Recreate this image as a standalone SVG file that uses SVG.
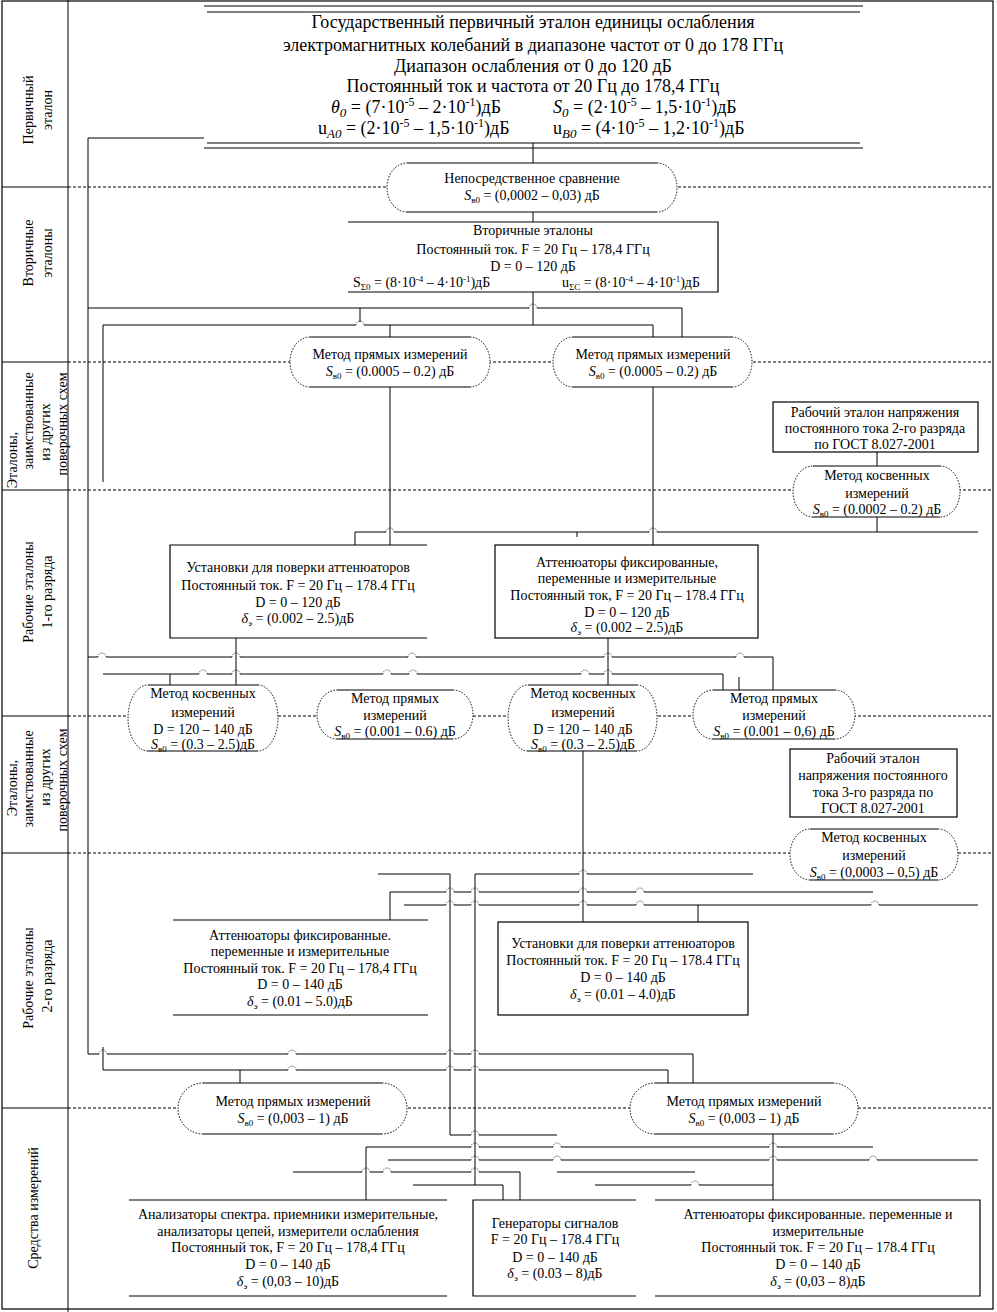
<svg xmlns="http://www.w3.org/2000/svg" width="997" height="1312" viewBox="0 0 997 1312">
<style>
.t{font-family:"Liberation Serif","Times New Roman",serif;font-size:14px;fill:#000;text-anchor:middle}
.h{font-size:18px}
.s{text-anchor:start}
.ln{fill:none;stroke:#000;stroke-width:1}
.bx{fill:none;stroke:#000;stroke-width:1.2}
.dot{fill:none;stroke:#000;stroke-width:1;stroke-dasharray:3 2}
.hop{fill:none;stroke:#000;stroke-width:0.8;stroke-dasharray:1 1.2}
.ef{fill:#fff;stroke:none}
.es{fill:none;stroke:#000;stroke-width:1.2}
.ed{fill:none;stroke:#000;stroke-width:1;stroke-dasharray:1.5 1.5}
</style>
<rect width="997" height="1312" fill="#fff"/>
<g id="frame">
<rect x="2" y="1" width="991" height="1308" class="bx"/>
<path class="ln" d="M68,0 V1312"/>
<path class="ln" d="M2,187 H68 M2,362 H68 M2,490 H68 M2,716 H68 M2,853 H68 M2,1108 H68"/>
<path class="dot" d="M68,187 H993 M68,362 H993 M68,490 H993 M68,716 H993 M68,853 H993 M68,1108 H993"/>
</g>
<g id="row-labels">
<text class="t" transform="translate(33,110) rotate(-90)">Первичный</text>
<text class="t" transform="translate(52,110) rotate(-90)">эталон</text>
<text class="t" transform="translate(33,253) rotate(-90)">Вторичные</text>
<text class="t" transform="translate(52,253) rotate(-90)">эталоны</text>
<text class="t" transform="translate(17,460) rotate(-90)">Эталоны,</text>
<text class="t" transform="translate(33,421) rotate(-90)">заимствованные</text>
<text class="t" transform="translate(50,432) rotate(-90)">из других</text>
<text class="t" transform="translate(67,424) rotate(-90)">поверочных схем</text>
<text class="t" transform="translate(33,592) rotate(-90)">Рабочие эталоны</text>
<text class="t" transform="translate(52,592) rotate(-90)">1-го разряда</text>
<text class="t" transform="translate(17,788) rotate(-90)">Эталоны,</text>
<text class="t" transform="translate(33,779) rotate(-90)">заимствованные</text>
<text class="t" transform="translate(50,777) rotate(-90)">из других</text>
<text class="t" transform="translate(67,780) rotate(-90)">поверочных схем</text>
<text class="t" transform="translate(33,978) rotate(-90)">Рабочие эталоны</text>
<text class="t" transform="translate(52,976) rotate(-90)">2-го разряда</text>
<text class="t" transform="translate(38,1208) rotate(-90)">Средства измерений</text>
</g>
<g id="connectors">
<path class="ln" d="M533,143 V163 M533,212 V222"/>
<path class="ln" d="M204,138 H88 V1054 H99 M107,1054 H288 M296,1054 H446 M454,1054 H471 M479,1054 H693 V1083"/>
<path class="ln" d="M103,1047 V1070 H288 M296,1070 H446 M454,1070 H471 M479,1070 H668 V1083 M240,1070 V1083"/>
<path class="ln" d="M88,308 H529 M537,308 H682 V337 M533,292 V325 M360,308 V322"/>
<path class="ln" d="M103,482 V325 H356 M364,325 H653 V337 M390,325 V337"/>
<path class="ln" d="M390,387 V545 M653,387 V545"/>
<path class="ln" d="M355,545 V532 H386 M394,532 H649 M657,532 H978 M577,532 V537"/>
<path class="ln" d="M877,452 V466 M877,517 V532"/>
<path class="ln" d="M236,638 V685 M608,638 V685"/>
<path class="ln" d="M88,657 H98 M106,657 H232 M240,657 H408 M416,657 H604 M612,657 H736 M744,657 H773 V690"/>
<path class="ln" d="M103,674 H199 M207,674 H232 M240,674 H383 M391,674 H409 M417,674 H581 M589,674 H604 M612,674 H723 V690 M170,674 V685 M739,677 V690"/>
<path class="ln" d="M583,751 V922"/>
<path class="ln" d="M378,874 H450 V1135 H471 M479,1135 H557"/>
<path class="ln" d="M753,874 H587 M579,874 H475 V1185"/>
<path class="ln" d="M390,920 V892 H446 M454,892 H471 M479,892 H579 M587,892 H636 M644,892 H873"/>
<path class="ln" d="M404,905 H446 M454,905 H471 M479,905 H579 M587,905 H636 M644,905 H871 M879,905 H978 M698,905 V922"/>
<path class="ln" d="M366,1200 V1147 H471 M479,1147 H553 M561,1147 H769 M777,1147 H873"/>
<path class="ln" d="M388,1160 H471 M479,1160 H553 M561,1160 H769 M777,1160 H869 M877,1160 H978"/>
<path class="ln" d="M293,1172 H362 M370,1172 H383 M391,1172 H471 M479,1172 H520 V1200 M557,1172 H695"/>
<path class="ln" d="M413,1185 H503 V1200 M595,1185 H691 M699,1185 H773 M773,1134 V1200"/>
<path class="hop" d="M99,1054 a4,4 0 0 1 8,0 M288,1054 a4,4 0 0 1 8,0 M446,1054 a4,4 0 0 1 8,0 M471,1054 a4,4 0 0 1 8,0
M288,1070 a4,4 0 0 1 8,0 M446,1070 a4,4 0 0 1 8,0 M471,1070 a4,4 0 0 1 8,0
M529,308 a4,4 0 0 1 8,0 M356,325 a4,4 0 0 1 8,0 M386,532 a4,4 0 0 1 8,0 M649,532 a4,4 0 0 1 8,0
M98,657 a4,4 0 0 1 8,0 M232,657 a4,4 0 0 1 8,0 M408,657 a4,4 0 0 1 8,0 M604,657 a4,4 0 0 1 8,0 M736,657 a4,4 0 0 1 8,0
M199,674 a4,4 0 0 1 8,0 M232,674 a4,4 0 0 1 8,0 M383,674 a4,4 0 0 1 8,0 M409,674 a4,4 0 0 1 8,0 M581,674 a4,4 0 0 1 8,0 M604,674 a4,4 0 0 1 8,0
M579,874 a4,4 0 0 1 8,0
M446,892 a4,4 0 0 1 8,0 M471,892 a4,4 0 0 1 8,0 M579,892 a4,4 0 0 1 8,0 M636,892 a4,4 0 0 1 8,0
M446,905 a4,4 0 0 1 8,0 M471,905 a4,4 0 0 1 8,0 M579,905 a4,4 0 0 1 8,0 M636,905 a4,4 0 0 1 8,0 M871,905 a4,4 0 0 1 8,0
M471,1135 a4,4 0 0 1 8,0
M471,1147 a4,4 0 0 1 8,0 M553,1147 a4,4 0 0 1 8,0 M769,1147 a4,4 0 0 1 8,0
M471,1160 a4,4 0 0 1 8,0 M553,1160 a4,4 0 0 1 8,0 M769,1160 a4,4 0 0 1 8,0 M869,1160 a4,4 0 0 1 8,0
M362,1172 a4,4 0 0 1 8,0 M383,1172 a4,4 0 0 1 8,0 M471,1172 a4,4 0 0 1 8,0
M691,1185 a4,4 0 0 1 8,0"/>
</g>
<g id="primary">
<path class="ln" d="M204,6 H863 M207,12 H860 M207,143 H860 M204,148 H863"/>
<text class="t h" x="533" y="28">Государственный первичный эталон единицы ослабления</text>
<text class="t h" x="533" y="51">электромагнитных колебаний в диапазоне частот от 0 до 178 ГГц</text>
<text class="t h" x="533" y="72">Диапазон ослабления от 0 до 120 дБ</text>
<text class="t h" x="533" y="92">Постоянный ток и частота от 20 Гц до 178,4 ГГц</text>
<text class="t h s" x="331" y="113"><tspan font-style="italic">θ</tspan><tspan font-style="italic" font-size="13" dy="4">0</tspan><tspan dy="-4"> = (7·10</tspan><tspan font-size="12" dy="-7">-5</tspan><tspan dy="7"> – 2·10</tspan><tspan font-size="12" dy="-7">-1</tspan><tspan dy="7">)дБ</tspan></text>
<text class="t h s" x="553" y="113"><tspan font-style="italic">S</tspan><tspan font-style="italic" font-size="13" dy="4">0</tspan><tspan dy="-4"> = (2·10</tspan><tspan font-size="12" dy="-7">-5</tspan><tspan dy="7"> – 1,5·10</tspan><tspan font-size="12" dy="-7">-1</tspan><tspan dy="7">)дБ</tspan></text>
<text class="t h s" x="318" y="134"><tspan>u</tspan><tspan font-style="italic" font-size="13" dy="4">A0</tspan><tspan dy="-4"> = (2·10</tspan><tspan font-size="12" dy="-7">-5</tspan><tspan dy="7"> – 1,5·10</tspan><tspan font-size="12" dy="-7">-1</tspan><tspan dy="7">)дБ</tspan></text>
<text class="t h s" x="553" y="134"><tspan>u</tspan><tspan font-style="italic" font-size="13" dy="4">B0</tspan><tspan dy="-4"> = (4·10</tspan><tspan font-size="12" dy="-7">-5</tspan><tspan dy="7"> – 1,2·10</tspan><tspan font-size="12" dy="-7">-1</tspan><tspan dy="7">)дБ</tspan></text>
</g>
<g id="direct-comparison">
<path class="ef" d="M407,163 H657 A20,24.5 0 0 1 657,212 H407 A20,24.5 0 0 1 407,163 Z"/>
<path class="es" d="M407,163 H657 M407,212 H657"/>
<path class="ed" d="M657,163 A20,24.5 0 0 1 657,212 M407,212 A20,24.5 0 0 1 407,163"/>
<text class="t" x="532" y="183">Непосредственное сравнение</text>
<text class="t" x="532" y="200"><tspan font-style="italic">S</tspan><tspan font-size="9" dy="3">в0</tspan><tspan dy="-3">  = (0,0002 – 0,03) дБ</tspan></text>
</g>
<g id="secondary">
<rect x="348" y="222" width="370" height="70" fill="#fff"/>
<path class="bx" d="M348,222 H718 V292 H348"/>
<text class="t" x="533" y="235">Вторичные эталоны</text>
<text class="t" x="533" y="254">Постоянный ток. F = 20 Гц – 178,4 ГГц</text>
<text class="t" x="533" y="271">D = 0 – 120 дБ</text>
<text class="t s" x="353" y="287"><tspan>S</tspan><tspan font-size="9" dy="3">Σ0</tspan><tspan dy="-3"> = (8·10</tspan><tspan font-size="9" dy="-5">-4</tspan><tspan dy="5"> – 4·10</tspan><tspan font-size="9" dy="-5">-1</tspan><tspan dy="5">)дБ</tspan></text>
<text class="t s" x="562" y="287"><tspan>u</tspan><tspan font-size="9" dy="3">ΣC</tspan><tspan dy="-3"> = (8·10</tspan><tspan font-size="9" dy="-5">-4</tspan><tspan dy="5"> – 4·10</tspan><tspan font-size="9" dy="-5">-1</tspan><tspan dy="5">)дБ</tspan></text>
</g>
<g id="direct-1">
<path class="ef" d="M310,337 H470 A20,25 0 0 1 470,387 H310 A20,25 0 0 1 310,337 Z"/>
<path class="es" d="M310,337 H470 M310,387 H470"/>
<path class="ed" d="M470,337 A20,25 0 0 1 470,387 M310,387 A20,25 0 0 1 310,337"/>
<text class="t" x="390" y="359">Метод прямых измерений</text>
<text class="t" x="390" y="376"><tspan font-style="italic">S</tspan><tspan font-size="9" dy="3">в0</tspan><tspan dy="-3">  = (0.0005 – 0.2) дБ</tspan></text>
</g>
<g id="direct-2">
<path class="ef" d="M573,337 H732 A20,25 0 0 1 732,387 H573 A20,25 0 0 1 573,337 Z"/>
<path class="es" d="M573,337 H732 M573,387 H732"/>
<path class="ed" d="M732,337 A20,25 0 0 1 732,387 M573,387 A20,25 0 0 1 573,337"/>
<text class="t" x="653" y="359">Метод прямых измерений</text>
<text class="t" x="653" y="376"><tspan font-style="italic">S</tspan><tspan font-size="9" dy="3">в0</tspan><tspan dy="-3">  = (0.0005 – 0.2) дБ</tspan></text>
</g>
<g id="voltage-2">
<rect class="bx" x="773" y="402" width="205" height="50" fill="#fff"/>
<text class="t" x="875" y="417">Рабочий эталон напряжения</text>
<text class="t" x="875" y="433">постоянного тока 2-го разряда</text>
<text class="t" x="875" y="449">по ГОСТ 8.027-2001</text>
</g>
<g id="indirect-1">
<path class="ef" d="M813,466 H940 A20,25.5 0 0 1 940,517 H813 A20,25.5 0 0 1 813,466 Z"/>
<path class="es" d="M813,466 H940 M813,517 H940"/>
<path class="ed" d="M940,466 A20,25.5 0 0 1 940,517 M813,517 A20,25.5 0 0 1 813,466"/>
<text class="t" x="877" y="480">Метод косвенных</text>
<text class="t" x="877" y="498">измерений</text>
<text class="t" x="877" y="514"><tspan font-style="italic">S</tspan><tspan font-size="9" dy="3">в0</tspan><tspan dy="-3">  = (0.0002 – 0.2) дБ</tspan></text>
</g>
<g id="setup-1">
<rect x="170" y="545" width="257" height="93" fill="#fff"/>
<path class="bx" d="M427,545 H170 V638 H427"/>
<text class="t" x="298" y="572">Установки для поверки аттенюаторов</text>
<text class="t" x="298" y="590">Постоянный ток. F = 20 Гц – 178.4 ГГц</text>
<text class="t" x="298" y="607">D = 0 – 120 дБ</text>
<text class="t" x="298" y="623"><tspan font-style="italic">δ</tspan><tspan font-size="9" dy="3">э</tspan><tspan dy="-3"> = (0.002 – 2.5)дБ</tspan></text>
</g>
<g id="attenuators-1">
<rect class="bx" x="495" y="545" width="263" height="93" fill="#fff"/>
<text class="t" x="627" y="567">Аттенюаторы фиксированные,</text>
<text class="t" x="627" y="583">переменные и измерительные</text>
<text class="t" x="627" y="600">Постоянный ток, F = 20 Гц – 178.4 ГГц</text>
<text class="t" x="627" y="617">D = 0 – 120 дБ</text>
<text class="t" x="627" y="632"><tspan font-style="italic">δ</tspan><tspan font-size="9" dy="3">э</tspan><tspan dy="-3"> = (0.002 – 2.5)дБ</tspan></text>
</g>
<g id="indirect-2">
<path class="ef" d="M148,685 H258 A20,33 0 0 1 258,751 H148 A20,33 0 0 1 148,685 Z"/>
<path class="es" d="M148,685 H258 M148,751 H258"/>
<path class="ed" d="M258,685 A20,33 0 0 1 258,751 M148,751 A20,33 0 0 1 148,685"/>
<text class="t" x="203" y="698">Метод косвенных</text>
<text class="t" x="203" y="717">измерений</text>
<text class="t" x="203" y="734">D = 120 – 140 дБ</text>
<text class="t" x="203" y="749"><tspan font-style="italic">S</tspan><tspan font-size="9" dy="3">в0</tspan><tspan dy="-3"> = (0.3 – 2.5)дБ</tspan></text>
</g>
<g id="direct-3">
<path class="ef" d="M337,690 H453 A20,24.5 0 0 1 453,739 H337 A20,24.5 0 0 1 337,690 Z"/>
<path class="es" d="M337,690 H453 M337,739 H453"/>
<path class="ed" d="M453,690 A20,24.5 0 0 1 453,739 M337,739 A20,24.5 0 0 1 337,690"/>
<text class="t" x="395" y="703">Метод прямых</text>
<text class="t" x="395" y="720">измерений</text>
<text class="t" x="395" y="736"><tspan font-style="italic">S</tspan><tspan font-size="9" dy="3">в0</tspan><tspan dy="-3">  = (0.001 – 0.6) дБ</tspan></text>
</g>
<g id="indirect-3">
<path class="ef" d="M528,685 H637 A20,33 0 0 1 637,751 H528 A20,33 0 0 1 528,685 Z"/>
<path class="es" d="M528,685 H637 M528,751 H637"/>
<path class="ed" d="M637,685 A20,33 0 0 1 637,751 M528,751 A20,33 0 0 1 528,685"/>
<text class="t" x="583" y="698">Метод косвенных</text>
<text class="t" x="583" y="717">измерений</text>
<text class="t" x="583" y="734">D = 120 – 140 дБ</text>
<text class="t" x="583" y="749"><tspan font-style="italic">S</tspan><tspan font-size="9" dy="3">в0</tspan><tspan dy="-3"> = (0.3 – 2.5)дБ</tspan></text>
</g>
<g id="direct-4">
<path class="ef" d="M713,690 H835 A20,24.5 0 0 1 835,739 H713 A20,24.5 0 0 1 713,690 Z"/>
<path class="es" d="M713,690 H835 M713,739 H835"/>
<path class="ed" d="M835,690 A20,24.5 0 0 1 835,739 M713,739 A20,24.5 0 0 1 713,690"/>
<text class="t" x="774" y="703">Метод прямых</text>
<text class="t" x="774" y="720">измерений</text>
<text class="t" x="774" y="736"><tspan font-style="italic">S</tspan><tspan font-size="9" dy="3">в0</tspan><tspan dy="-3">  = (0.001 – 0,6) дБ</tspan></text>
</g>
<g id="voltage-3">
<rect class="bx" x="790" y="749" width="167" height="68" fill="#fff"/>
<text class="t" x="873" y="763">Рабочий эталон</text>
<text class="t" x="873" y="780">напряжения постоянного</text>
<text class="t" x="873" y="797">тока 3-го разряда по</text>
<text class="t" x="873" y="813">ГОСТ 8.027-2001</text>
</g>
<g id="indirect-4">
<path class="ef" d="M810,829 H938 A20,25.5 0 0 1 938,880 H810 A20,25.5 0 0 1 810,829 Z"/>
<path class="es" d="M810,829 H938 M810,880 H938"/>
<path class="ed" d="M938,829 A20,25.5 0 0 1 938,880 M810,880 A20,25.5 0 0 1 810,829"/>
<text class="t" x="874" y="842">Метод косвенных</text>
<text class="t" x="874" y="860">измерений</text>
<text class="t" x="874" y="877"><tspan font-style="italic">S</tspan><tspan font-size="9" dy="3">в0</tspan><tspan dy="-3">  = (0,0003 – 0,5) дБ</tspan></text>
</g>
<g id="attenuators-2">
<path class="bx" d="M173,920 H428 M173,1015 H428"/>
<text class="t" x="300" y="940">Аттенюаторы фиксированные.</text>
<text class="t" x="300" y="956">переменные и измерительные</text>
<text class="t" x="300" y="973">Постоянный ток. F = 20 Гц – 178,4 ГГц</text>
<text class="t" x="300" y="989">D = 0 – 140 дБ</text>
<text class="t" x="300" y="1006"><tspan font-style="italic">δ</tspan><tspan font-size="9" dy="3">э</tspan><tspan dy="-3"> = (0.01 – 5.0)дБ</tspan></text>
</g>
<g id="setup-2">
<rect class="bx" x="498" y="922" width="250" height="93" fill="#fff"/>
<text class="t" x="623" y="948">Установки для поверки аттенюаторов</text>
<text class="t" x="623" y="965">Постоянный ток. F = 20 Гц – 178.4 ГГц</text>
<text class="t" x="623" y="982">D = 0 – 140 дБ</text>
<text class="t" x="623" y="999"><tspan font-style="italic">δ</tspan><tspan font-size="9" dy="3">э</tspan><tspan dy="-3"> = (0.01 – 4.0)дБ</tspan></text>
</g>
<g id="direct-5">
<path class="ef" d="M203,1083 H382 A25,25.5 0 0 1 382,1134 H203 A25,25.5 0 0 1 203,1083 Z"/>
<path class="es" d="M203,1083 H382 M203,1134 H382"/>
<path class="ed" d="M382,1083 A25,25.5 0 0 1 382,1134 M203,1134 A25,25.5 0 0 1 203,1083"/>
<text class="t" x="293" y="1106">Метод прямых измерений</text>
<text class="t" x="293" y="1123"><tspan font-style="italic">S</tspan><tspan font-size="9" dy="3">в0</tspan><tspan dy="-3">  = (0,003 – 1) дБ</tspan></text>
</g>
<g id="direct-6">
<path class="ef" d="M655,1083 H833 A25,25.5 0 0 1 833,1134 H655 A25,25.5 0 0 1 655,1083 Z"/>
<path class="es" d="M655,1083 H833 M655,1134 H833"/>
<path class="ed" d="M833,1083 A25,25.5 0 0 1 833,1134 M655,1134 A25,25.5 0 0 1 655,1083"/>
<text class="t" x="744" y="1106">Метод прямых измерений</text>
<text class="t" x="744" y="1123"><tspan font-style="italic">S</tspan><tspan font-size="9" dy="3">в0</tspan><tspan dy="-3">  = (0,003 – 1) дБ</tspan></text>
</g>
<g id="analyzers">
<path class="bx" d="M129,1200 H447 M129,1296 H447"/>
<text class="t" x="288" y="1219">Анализаторы спектра. приемники измерительные,</text>
<text class="t" x="288" y="1236">анализаторы цепей, измерители ослабления</text>
<text class="t" x="288" y="1252">Постоянный ток, F = 20 Гц – 178,4 ГГц</text>
<text class="t" x="288" y="1269">D = 0 – 140 дБ</text>
<text class="t" x="288" y="1286"><tspan font-style="italic">δ</tspan><tspan font-size="9" dy="3">э</tspan><tspan dy="-3"> = (0,03 – 10)дБ</tspan></text>
</g>
<g id="generators">
<path class="bx" d="M636,1200 H473 V1296 H636"/>
<text class="t" x="555" y="1228">Генераторы сигналов</text>
<text class="t" x="555" y="1244">F = 20 Гц – 178.4 ГГц</text>
<text class="t" x="555" y="1262">D = 0 – 140 дБ</text>
<text class="t" x="555" y="1278"><tspan font-style="italic">δ</tspan><tspan font-size="9" dy="3">э</tspan><tspan dy="-3"> = (0.03 – 8)дБ</tspan></text>
</g>
<g id="attenuators-3">
<path class="bx" d="M655,1200 H980 V1296 H655"/>
<text class="t" x="818" y="1219">Аттенюаторы фиксированные. переменные и</text>
<text class="t" x="818" y="1236">измерительные</text>
<text class="t" x="818" y="1252">Постоянный ток. F = 20 Гц – 178.4 ГГц</text>
<text class="t" x="818" y="1269">D = 0 – 140 дБ</text>
<text class="t" x="818" y="1286"><tspan font-style="italic">δ</tspan><tspan font-size="9" dy="3">э</tspan><tspan dy="-3"> = (0,03 – 8)дБ</tspan></text>
</g>
</svg>
